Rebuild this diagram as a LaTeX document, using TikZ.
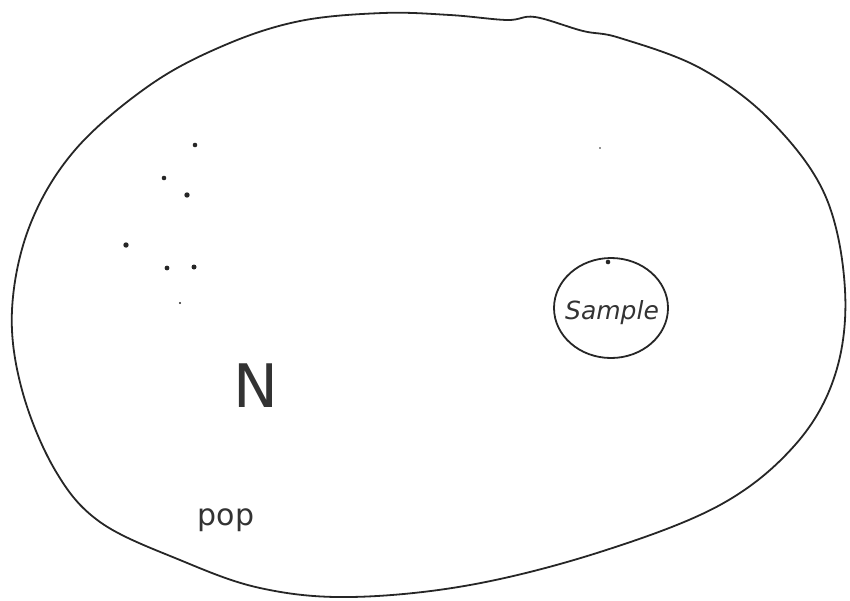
\documentclass[tikz,border=0pt]{standalone}
\usepackage{fontspec}
\setsansfont{DejaVu Sans}
\usetikzlibrary{shapes.geometric}
\begin{document}
\begin{tikzpicture}[x=1pt,y=-1pt,
  sketch/.style={line width=1.8pt, black!85, line cap=round, line join=round},
  lbl/.style={inner sep=0pt, text=black!80, font=\sffamily}]
\useasboundingbox (0,0) rectangle (850,600);
% population outline
\draw[sketch] plot[smooth cycle, tension=0.6] coordinates {
  (300,21) (383,13) (450,15) (507,20) (535,17) (583,31) (620,38)
  (700,68) (770,120) (825,195) (845,290) (835,375) (795,445)
  (720,505) (600,552) (470,585) (350,597) (260,588) (180,560)
  (100,522) (55,470) (22,390) (12,310) (30,225) (75,150) (150,85) (225,45)};
% sample circle
\node[draw, sketch, ellipse, minimum width=114pt, minimum height=100pt] (samp) at (611,308) {};
\node[lbl, font=\sffamily\fontsize{25}{25}\selectfont\itshape] (samplbl) at (612,313) {Sample};
% labels
\node[lbl, font=\sffamily\fontsize{60}{60}\selectfont] (nlbl) at (256,386) {N};
\node[lbl, font=\sffamily\fontsize{30}{30}\selectfont] (poplbl) at (226,520) {pop};
% dots
\foreach \p/\r [count=\i] in {{(195,145)}/2.3, {(164,178)}/2.3, {(187,195)}/2.7, {(126,245)}/2.7,
   {(167,268)}/2.4, {(194,267)}/2.5, {(180,303)}/1.1, {(608,262)}/2.3, {(600,148)}/0.9}
  \fill[black!85] \p circle (\r pt) coordinate (d\i);
\end{tikzpicture}
\end{document}
